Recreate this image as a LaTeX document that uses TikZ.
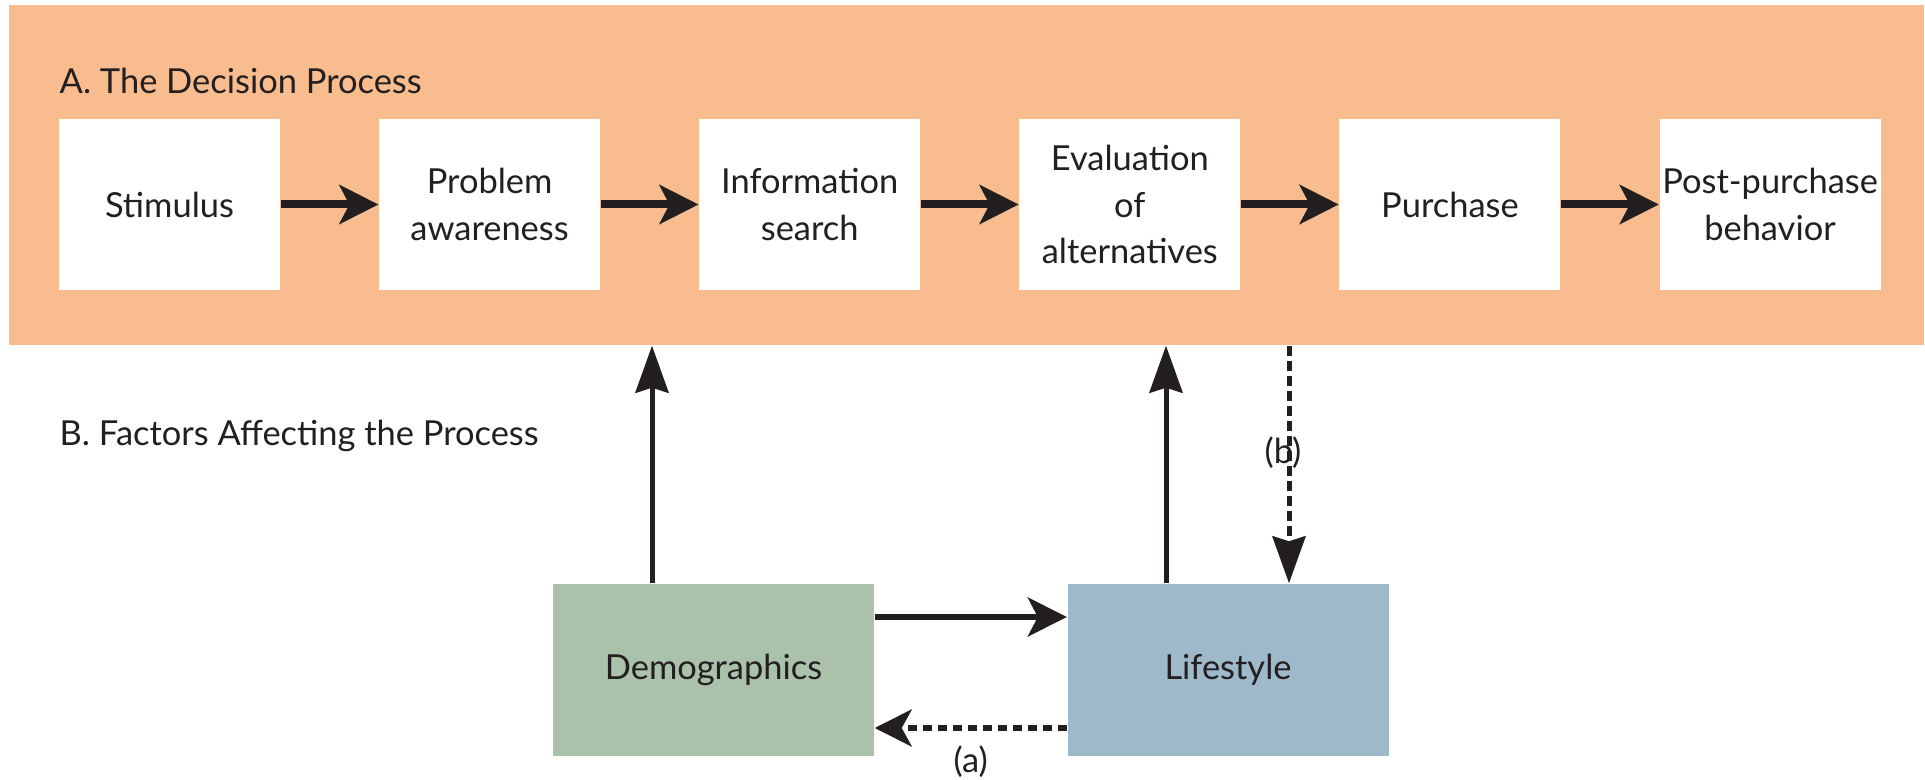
\documentclass[tikz,border=0pt]{standalone}
\usepackage{fontspec}
\setmainfont{Lato}
\usetikzlibrary{positioning,arrows.meta}
\definecolor{panelorange}{HTML}{F9BC8E}
\definecolor{demogreen}{HTML}{ABC2AA}
\definecolor{lifeblue}{HTML}{9EB9C9}
\definecolor{inkgray}{HTML}{231F20}
\begin{document}
\begin{tikzpicture}[every node/.style={text=inkgray,font=\fontsize{9.8}{13.3}\selectfont},
				procbox/.style={fill=white,minimum width=2.21cm,minimum height=1.71cm,inner sep=0pt,align=center},
				factorbox/.style={minimum width=3.21cm,minimum height=1.72cm,inner sep=0pt},
				heading/.style={anchor=base west,inner sep=0pt},
				flow/.style={draw=inkgray,line width=0.8mm,-{Stealth[length=3.9mm,width=3.9mm,inset=1mm]}},
				rise/.style={draw=inkgray,line width=0.5mm,-{Stealth[length=4.7mm,width=3.3mm,inset=0.5mm]}},
				back/.style={draw=inkgray,line width=0.57mm,dash pattern=on 0.9mm off 0.6mm,-{Stealth[length=3.7mm,width=3.7mm,inset=1mm]}}]
\useasboundingbox (0,0) rectangle (19.25,7.79);
% A. the decision process
\node[fill=panelorange,minimum width=19.15cm,minimum height=3.40cm,inner sep=0pt] (panelA) at (9.665,6.04) {};
\node[heading] (titleA) at (0.59,6.85) {A. The Decision Process};
\node[procbox] (stim) at (1.695,5.745) {Stimulus};
\node[procbox,right=0.977cm of stim] (prob) {Problem\\awareness};
\node[procbox,right=0.977cm of prob] (info) {Information\\search};
\node[procbox,right=0.977cm of info] (eval) {Evaluation\\of\\alternatives};
\node[procbox,right=0.977cm of eval] (buy) {Purchase};
\node[procbox,right=0.977cm of buy] (post) {Post-purchase\\behavior};
\draw[flow] (stim) -- (prob);
\draw[flow] (prob) -- (info);
\draw[flow] (info) -- (eval);
\draw[flow] (eval) -- (buy);
\draw[flow] (buy) -- (post);
% B. factors
\node[heading] (titleB) at (0.59,3.33) {B. Factors Affecting the Process};
\node[factorbox,fill=demogreen] (demo) at (7.135,1.09) {Demographics};
\node[factorbox,fill=lifeblue] (life) at (12.28,1.09) {Lifestyle};
\draw[rise] ([xshift=-6.15mm]demo.north) -- ([xshift=-6.15mm]demo.north |- panelA.south);
\draw[rise] ([xshift=-6.2mm]life.north) -- ([xshift=-6.2mm]life.north |- panelA.south);
\draw[rise,line width=0.5mm,dash pattern=on 1mm off 0.5mm] ([xshift=6.1mm]life.north |- panelA.south) -- ([xshift=6.1mm]life.north)
	node[pos=0.45,xshift=-0.6mm] {(b)};
\draw[flow,line width=0.55mm] ([yshift=5.3mm]demo.east) -- ([yshift=5.3mm]life.west);
\draw[back] ([yshift=-5.8mm]life.west) -- ([yshift=-5.8mm]demo.east)
	node[midway,below,inner sep=1.5mm] {(a)};
\end{tikzpicture}
\end{document}
